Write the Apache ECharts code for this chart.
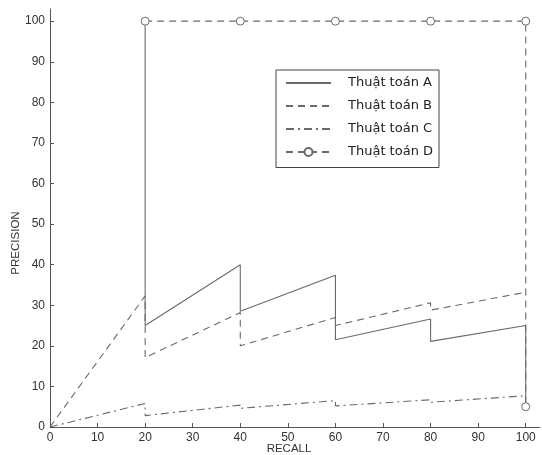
<!DOCTYPE html>
<html>
<head>
<meta charset="utf-8">
<script src="https://cdn.jsdelivr.net/npm/echarts@6/dist/echarts.min.js"></script>
<style>html,body{margin:0;padding:0;background:#fff}#c{width:542px;height:455px}</style>
</head>
<body>
<div id="c"></div>
<script>
var xTicks = [0,10,20,30,40,50,60,70,80,90,100];
var yTicks = [0,10,20,30,40,50,60,70,80,90,100];
var seriesNames = ['Thuật toán A','Thuật toán B','Thuật toán C','Thuật toán D'];
var dataA = [[20,100],[20,25],[40,40],[40,28.5],[60,37.4],[60,21.5],[80,26.6],[80,21.1],[100,25],[100,5]];
var dataB = [[0,0],[20,32.3],[20,17.1],[40,28.2],[40,20],[60,27],[60,25],[80,30.6],[80,28.8],[100,33.2]];
var dataC = [[0,0],[20,5.8],[20,2.8],[40,5.4],[40,4.6],[60,6.5],[60,5.2],[80,6.7],[80,6.1],[100,7.7]];
var dataD = [[20,100],[40,100],[60,100],[80,100],[100,100],[100,5]];

var chart = echarts.init(document.getElementById('c'));
var lc = '#6a6a6a';
chart.setOption({
  animation: false,
  backgroundColor: '#fff',
  grid: {left: 50, right: 2, top: 9, bottom: 28, containLabel: false},
  legend: {
    orient: 'vertical', left: 276, top: 70,
    itemWidth: 45, itemHeight: 10, itemGap: 10,
    padding: [6.5, 6, 9, 9],
    borderColor: '#444', borderWidth: 1, backgroundColor: '#fff',
    textStyle: {fontFamily: 'DejaVu Sans', fontSize: 13, color: '#222', padding: [0,0,0,12]},
    data: [
      {name: seriesNames[0], itemStyle: {opacity: 0}},
      {name: seriesNames[1], itemStyle: {opacity: 0}},
      {name: seriesNames[2], itemStyle: {opacity: 0}},
      {name: seriesNames[3]}
    ]
  },
  xAxis: {
    type: 'value', min: 0, max: 103,
    axisLine: {lineStyle: {color: '#555'}},
    axisTick: {inside: true, length: 4, customValues: xTicks, lineStyle: {color: '#555'}},
    axisLabel: {customValues: xTicks, color: '#333', fontFamily: 'Liberation Sans', fontSize: 12, margin: 5},
    splitLine: {show: false}
  },
  yAxis: {
    type: 'value', min: 0, max: 103,
    axisLine: {show: true, lineStyle: {color: '#555'}},
    axisTick: {show: true, inside: true, length: 4, customValues: yTicks, lineStyle: {color: '#555'}},
    axisLabel: {customValues: yTicks, color: '#333', fontFamily: 'Liberation Sans', fontSize: 12, margin: 5},
    splitLine: {show: false}
  },
  graphic: [
    {type: 'text', position: [16, 243], rotation: Math.PI/2, style: {text: 'PRECISION', font: '11.5px Liberation Sans', fill: '#333', textAlign: 'center', textVerticalAlign: 'middle'}},
    {type: 'text', position: [289, 449], style: {text: 'RECALL', font: '11.5px Liberation Sans', fill: '#333', textAlign: 'center', textVerticalAlign: 'middle'}}
  ],
  series: [
    {name: seriesNames[0], type: 'line', data: dataA, symbol: 'none', lineStyle: {color: lc, width: 1.1, type: 'solid'}, itemStyle: {color: lc}},
    {name: seriesNames[1], type: 'line', data: dataB, symbol: 'none', lineStyle: {color: lc, width: 1.1, type: [7,5]}, itemStyle: {color: lc}},
    {name: seriesNames[2], type: 'line', data: dataC, symbol: 'none', lineStyle: {color: lc, width: 1.1, type: [8,4,2,4]}, itemStyle: {color: lc}},
    {name: seriesNames[3], type: 'line', data: dataD, symbol: 'circle', symbolSize: 8, showSymbol: true, lineStyle: {color: lc, width: 1.1, type: [7,5]}, itemStyle: {color: '#fff', borderColor: lc, borderWidth: 1}}
  ]
});
</script>
</body>
</html>
